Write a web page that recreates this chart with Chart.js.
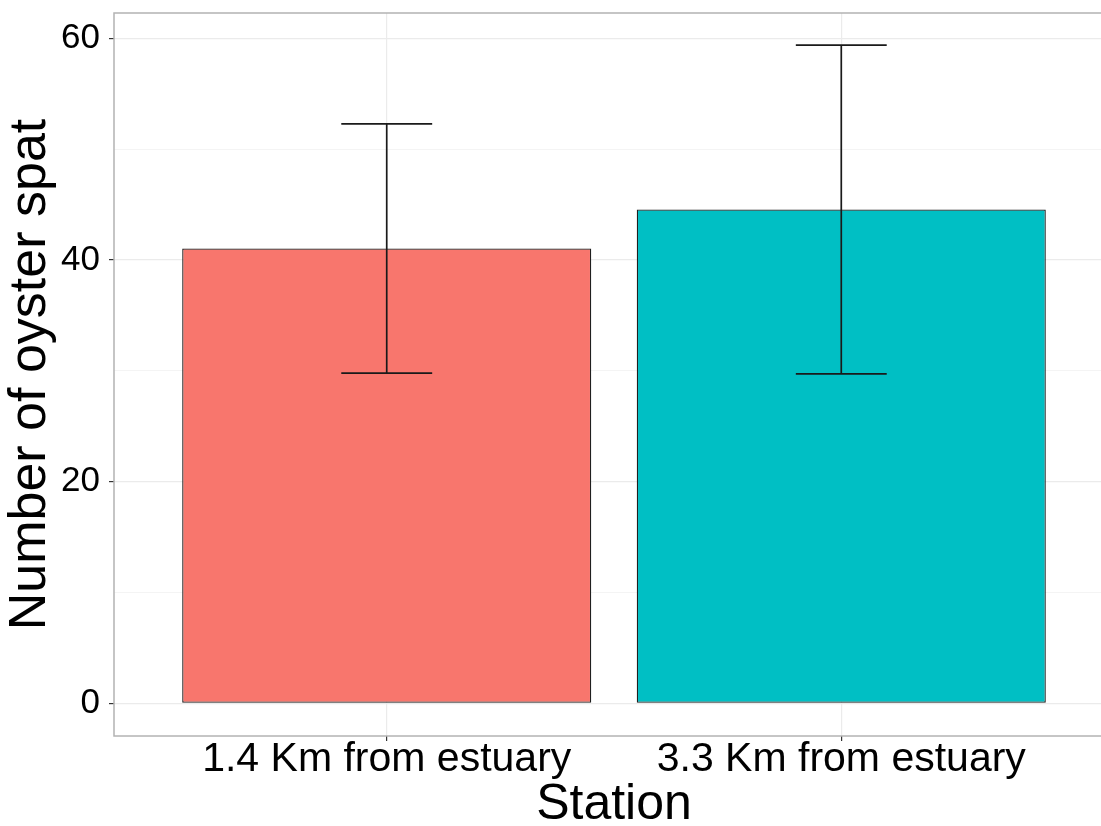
<!DOCTYPE html>
<html>
<head>
<meta charset="utf-8">
<script src="https://cdn.jsdelivr.net/npm/chart.js@4/dist/chart.umd.min.js"></script>
<style>
html,body{margin:0;padding:0;overflow:hidden;background:#fff;width:1101px;height:826px;}
#clip{width:1101px;height:826px;overflow:hidden;position:relative;}
#wrap{width:1120px;height:826px;position:absolute;left:0;top:0;}
canvas{display:block;width:1120px;height:826px;}
</style>
</head>
<body>
<div id="clip"><div id="wrap"><canvas id="c" width="1120" height="826"></canvas></div></div>
<script>
const categories = ['1.4 Km from estuary', '3.3 Km from estuary'];
const positions = [1, 2];
const means = [41.05, 44.57];
const errLow = [29.8, 29.74];
const errHigh = [52.3, 59.4];
const barColors = ['#F8766D', '#00BFC4'];
const yTicks = [0, 10, 20, 30, 40, 50, 60];
const yLabelled = [0, 20, 40, 60];

const FONT = "'Liberation Sans', Arial, sans-serif";

const errorBars = {
  id: 'errorBars',
  afterDatasetsDraw(chart) {
    const {ctx, scales: {x, y}} = chart;
    ctx.save();
    ctx.strokeStyle = '#1a1a1a';
    ctx.lineWidth = 1.7;
    for (let i = 0; i < positions.length; i++) {
      const px = x.getPixelForValue(positions[i]);
      const pl = x.getPixelForValue(positions[i] - 0.1);
      const pr = x.getPixelForValue(positions[i] + 0.1);
      const yl = y.getPixelForValue(errLow[i]);
      const yh = y.getPixelForValue(errHigh[i]);
      ctx.beginPath();
      ctx.moveTo(px, yl); ctx.lineTo(px, yh);
      ctx.moveTo(pl, yl); ctx.lineTo(pr, yl);
      ctx.moveTo(pl, yh); ctx.lineTo(pr, yh);
      ctx.stroke();
    }
    const a = chart.chartArea;
    ctx.strokeStyle = '#b3b3b3';
    ctx.lineWidth = 1.5;
    ctx.strokeRect(a.left, a.top, a.right - a.left, a.bottom - a.top);
    ctx.restore();
  }
};

function zeroPad(scale) {
  scale.paddingTop = 0; scale.paddingBottom = 0;
  scale.paddingLeft = 0; scale.paddingRight = 0;
}

new Chart(document.getElementById('c'), {
  type: 'bar',
  data: {
    datasets: [{
      data: positions.map((p, i) => ({x: p, y: means[i]})),
      backgroundColor: barColors,
      borderColor: '#1f1f1f',
      borderWidth: 1.3,
      borderSkipped: false,
      categoryPercentage: 1,
      barPercentage: 0.9
    }]
  },
  plugins: [errorBars],
  options: {
    responsive: false,
    animation: false,
    devicePixelRatio: 1,
    layout: {padding: {left: 0, right: 6, top: 13, bottom: 0}},
    plugins: {legend: {display: false}, tooltip: {enabled: false}},
    scales: {
      x: {
        type: 'linear',
        offset: false,
        min: 0.4,
        max: 2.6,
        afterBuildTicks: s => { s.ticks = positions.map(v => ({value: v})); },
        afterFit: s => { s.height = 90; zeroPad(s); },
        grid: {offset: false, color: '#ebebeb', lineWidth: 1.2, tickColor: '#333333', tickLength: 5},
        border: {display: false},
        ticks: {
          autoSkip: false, maxRotation: 0, minRotation: 0,
          padding: -1.5,
          color: '#000',
          font: {family: FONT, size: 41, lineHeight: 1},
          callback: v => categories[positions.indexOf(v)]
        },
        title: {
          display: true, text: 'Station', color: '#000',
          font: {family: FONT, size: 50, lineHeight: 0.84},
          padding: {top: 0, bottom: 0}
        }
      },
      y: {
        type: 'linear',
        min: -2.95,
        max: 62.3,
        afterBuildTicks: s => { s.ticks = yTicks.map(v => ({value: v})); },
        afterFit: s => { s.width = 114; zeroPad(s); },
        grid: {
          color: c => (c.tick && yLabelled.includes(c.tick.value)) ? '#ebebeb' : '#f4f4f4',
          lineWidth: c => (c.tick && yLabelled.includes(c.tick.value)) ? 1.2 : 1,
          tickColor: c => (c.tick && yLabelled.includes(c.tick.value)) ? '#333333' : 'rgba(0,0,0,0)',
          tickLength: 5
        },
        border: {display: false},
        ticks: {
          padding: 9,
          color: '#000',
          font: {family: FONT, size: 35, lineHeight: 1},
          callback: v => yLabelled.includes(v) ? String(v) : ''
        },
        title: {
          display: true, text: 'Number of oyster spat', color: '#000',
          font: {family: FONT, size: 52, lineHeight: 1},
          padding: {top: 5, bottom: 0}
        }
      }
    }
  }
});
</script>
</body>
</html>
